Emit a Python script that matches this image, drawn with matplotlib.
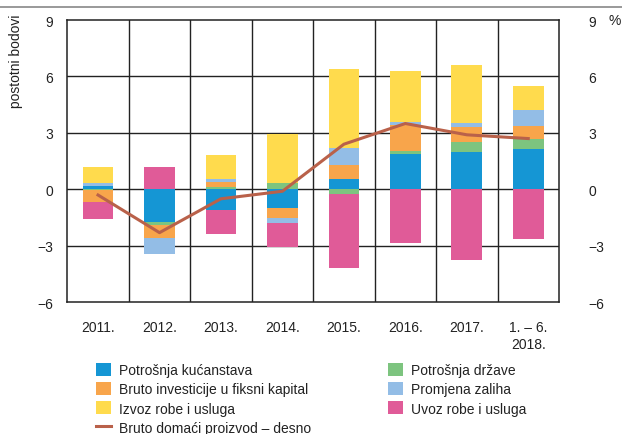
import matplotlib
matplotlib.use("Agg")
import matplotlib.pyplot as plt
from matplotlib import font_manager
from matplotlib.patches import Patch
from matplotlib.lines import Line2D
import numpy as np

names = {f.name for f in font_manager.fontManager.ttflist}
fam = ["Liberation Sans Narrow", "DejaVu Sans"] if "Liberation Sans Narrow" in names else ["Liberation Sans", "DejaVu Sans"]
plt.rcParams["font.family"] = fam

categories = ["2011.", "2012.", "2013.", "2014.", "2015.", "2016.", "2017.", "1. – 6.\n2018."]
potrosnja_kucanstava = [0.16, -1.76, -1.10, -0.99, 0.55, 1.89, 2.00, 2.16]
potrosnja_drzave = [-0.03, -0.15, 0.10, 0.34, -0.23, 0.16, 0.53, 0.54]
bruto_investicije = [-0.62, -0.65, 0.31, -0.54, 0.74, 1.37, 0.77, 0.67]
promjena_zaliha = [0.16, -0.85, 0.14, -0.25, 0.93, 0.16, 0.21, 0.83]
izvoz = [0.88, -0.05, 1.27, 2.60, 4.20, 2.71, 3.10, 1.30]
uvoz = [-0.94, 1.20, -1.28, -1.27, -3.97, -2.86, -3.76, -2.66]
bdp = [-0.3, -2.3, -0.5, -0.1, 2.4, 3.5, 2.9, 2.7]

series = [
    ("Potrošnja kućanstava", potrosnja_kucanstava, "#1596D4"),
    ("Potrošnja države", potrosnja_drzave, "#7DC47F"),
    ("Bruto investicije u fiksni kapital", bruto_investicije, "#F8A54B"),
    ("Promjena zaliha", promjena_zaliha, "#93BDE6"),
    ("Izvoz robe i usluga", izvoz, "#FFDB4D"),
    ("Uvoz robe i usluga", uvoz, "#E05B98"),
]

FS = 10

fig = plt.figure(figsize=(6.22, 4.35), dpi=100)
ax = fig.add_axes([0.1082, 0.3028, 0.7905, 0.6489])
x = np.arange(len(categories))
pos = np.zeros(len(categories))
neg = np.zeros(len(categories))
for name, vals, col in series:
    v = np.array(vals)
    bottom = np.where(v >= 0, pos, neg)
    ax.bar(x, v, 0.5, bottom=bottom, color=col, edgecolor="none", zorder=3)
    pos += np.where(v >= 0, v, 0)
    neg += np.where(v < 0, v, 0)

ax.plot(x, bdp, color="#B9614A", lw=2.2, zorder=4)

ax.set_xlim(-0.5, len(categories) - 0.5)
ax.set_ylim(-6, 9)
ax.set_yticks([-6, -3, 0, 3, 6, 9])
ax.set_yticklabels(["−6", "−3", "0", "3", "6", "9"])
ax.set_xticks(x)
ax.set_xticklabels(categories)
ax.tick_params(axis="both", length=0, labelsize=FS, colors="#222222")
ax.tick_params(axis="y", pad=10)
ax.tick_params(axis="x", pad=13)
for s in ax.spines.values():
    s.set_color("#222222")
    s.set_linewidth(1.1)
for yv in [-3, 0, 3, 6]:
    ax.axhline(yv, color="#222222", lw=1.0, zorder=2)
for xv in np.arange(0.5, len(categories) - 0.5, 1):
    ax.axvline(xv, color="#222222", lw=1.0, zorder=2)

ax2 = ax.twinx()
ax2.set_ylim(-6, 9)
ax2.set_yticks([-6, -3, 0, 3, 6, 9])
ax2.set_yticklabels(["−6", "−3", "0", "3", "6", "9"])
ax2.tick_params(axis="y", length=0, labelsize=FS, colors="#222222", pad=21)
for s in ax2.spines.values():
    s.set_visible(False)

fig.text(0.998, 1 - 21 / 435, "%", ha="right", va="center", fontsize=FS, color="#222222")
fig.text(0.025, 1 - 15 / 435, "postotni bodovi", rotation=90, ha="center", va="top", fontsize=FS, color="#222222")

fig.add_artist(Line2D([0, 1.0], [1 - 7.5 / 435] * 2, color="#888888", lw=1.2, transform=fig.transFigure))

def phandle(c):
    return Patch(facecolor=c, edgecolor="none")

h1 = [phandle(series[0][2]), phandle(series[2][2]), phandle(series[4][2]), Line2D([], [], color="#B9614A", lw=2.2)]
l1 = [series[0][0], series[2][0], series[4][0], "Bruto domaći proizvod – desno"]
h2 = [phandle(series[1][2]), phandle(series[3][2]), phandle(series[5][2])]
l2 = [series[1][0], series[3][0], series[5][0]]

common = dict(frameon=False, fontsize=FS, handlelength=1.05, handleheight=1.05, handletextpad=0.6,
              labelspacing=0.36, borderaxespad=0, borderpad=0, loc="upper left")
leg1 = fig.legend(h1, l1, bbox_to_anchor=(96 / 622, 1 - 364 / 435), **common)
leg2 = fig.legend(h2, l2, bbox_to_anchor=(388 / 622, 1 - 364 / 435), **common)
for lg in (leg1, leg2):
    for t in lg.get_texts():
        t.set_color("#222222")

fig.savefig("out.png", dpi=100)
